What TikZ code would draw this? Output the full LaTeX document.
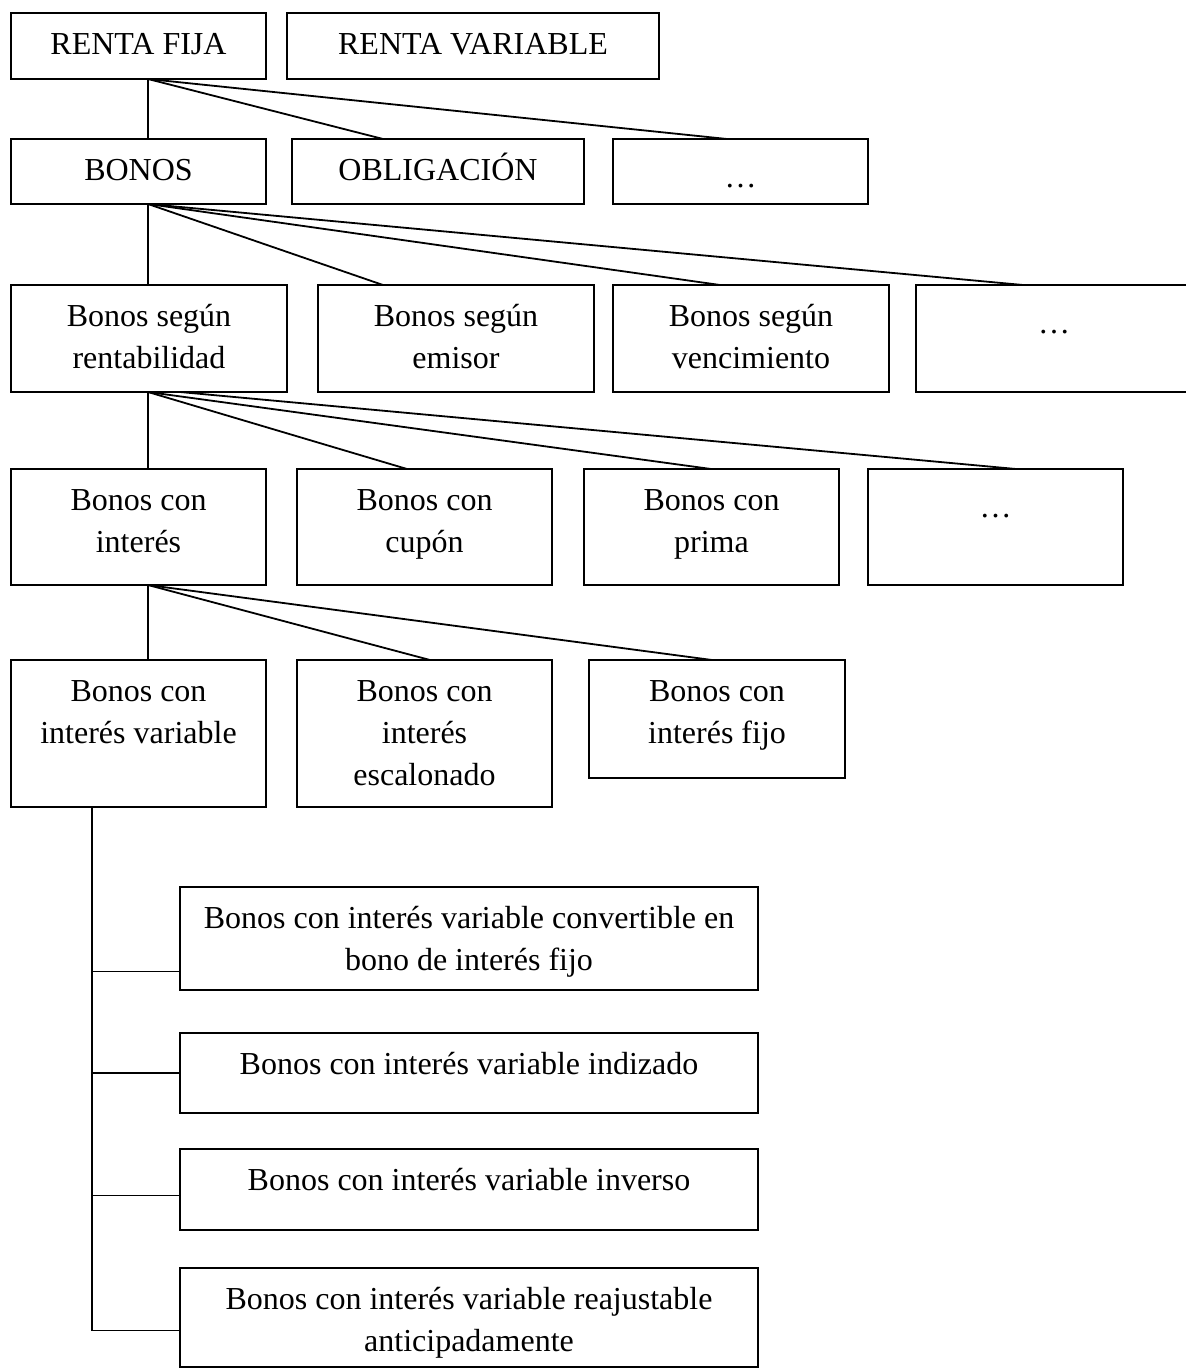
\documentclass[tikz,border=0pt]{standalone}
\usepackage{fontspec}
\setmainfont{Liberation Serif}
\usetikzlibrary{calc}
\tikzset{
  boxst/.style={draw, line width=1pt, rectangle, inner sep=0pt, outer sep=0pt, anchor=north west},
  txt/.style={inner sep=0pt, outer sep=0pt, align=center, anchor=north, font=\fontsize{16}{21}\selectfont},
  conn/.style={line width=0.9pt},
}
\newcommand\mybox[6]{%
  \node[boxst, minimum width=#4*0.5pt, minimum height=#5*0.5pt] (#1) at (#2,#3) {};
  \node[txt] (#1-t) at ($(#1.north)+(0,12)$) {\strut #6};}
\newcommand\mydots{\raisebox{-3.5pt}{\dots}}
\begin{document}
\begin{tikzpicture}[x=0.5pt, y=-0.5pt]
\useasboundingbox (0,0) rectangle (1186,1369);
% row 1
\mybox{rf}{11}{13}{255}{66}{RENTA FIJA}
\mybox{rv}{287}{13}{372}{66}{RENTA VARIABLE}
% row 2
\mybox{bon}{11}{139}{255}{65}{BONOS}
\mybox{obl}{292}{139}{292}{65}{OBLIGACIÓN}
\mybox{d2}{613}{139}{255}{65}{\mydots}
% row 3
\mybox{r3a}{11}{285}{276}{107}{Bonos según\\rentabilidad}
\mybox{r3b}{318}{285}{276}{107}{Bonos según\\emisor}
\mybox{r3c}{613}{285}{276}{107}{Bonos según\\vencimiento}
\mybox{r3d}{916}{285}{276}{107}{\mydots}
% row 4
\mybox{r4a}{11}{469}{255}{116}{Bonos con\\interés}
\mybox{r4b}{297}{469}{255}{116}{Bonos con\\cupón}
\mybox{r4c}{584}{469}{255}{116}{Bonos con\\prima}
\mybox{r4d}{868}{469}{255}{116}{\mydots}
% row 5
\mybox{r5a}{11}{660}{255}{147}{Bonos con\\interés variable}
\mybox{r5b}{297}{660}{255}{147}{Bonos con\\interés\\escalonado}
\mybox{r5c}{589}{660}{256}{118}{Bonos con\\interés fijo}
% row 6
\mybox{r6a}{180}{887}{578}{103}{Bonos con interés variable convertible en\\bono de interés fijo}
\mybox{r6b}{180}{1033}{578}{80}{Bonos con interés variable indizado}
\mybox{r6c}{180}{1149}{578}{81}{Bonos con interés variable inverso}
\mybox{r6d}{180}{1268}{578}{99}{Bonos con interés variable reajustable\\anticipadamente}

% connectors row1 -> row2
\coordinate (rf-o) at ($(rf.south west)+(137,0)$);
\draw[conn] (rf-o) -- ($(bon.north west)+(137,0)$);
\draw[conn] (rf-o) -- ($(obl.north west)+(91,0)$);
\draw[conn] (rf-o) -- ($(d2.north west)+(114,0)$);
% row2 -> row3
\coordinate (bon-o) at ($(bon.south west)+(137,0)$);
\draw[conn] (bon-o) -- ($(r3a.north west)+(137,0)$);
\draw[conn] (bon-o) -- ($(r3b.north west)+(65,0)$);
\draw[conn] (bon-o) -- ($(r3c.north west)+(107,0)$);
\draw[conn] (bon-o) -- ($(r3d.north west)+(107,0)$);
% row3 -> row4
\coordinate (r3a-o) at ($(r3a.south west)+(137,0)$);
\coordinate (r3a-p) at ($(r3a.south west)+(169,0)$);
\draw[conn] (r3a-o) -- ($(r4a.north west)+(137,0)$);
\draw[conn] (r3a-o) -- ($(r4b.north west)+(110,0)$);
\draw[conn] (r3a-o) -- ($(r4c.north west)+(127,0)$);
\draw[conn] (r3a-p) -- ($(r4d.north west)+(148,0)$);
% row4 -> row5
\coordinate (r4a-o) at ($(r4a.south west)+(137,0)$);
\draw[conn] (r4a-o) -- ($(r5a.north west)+(137,0)$);
\draw[conn] (r4a-o) -- ($(r5b.north west)+(133,0)$);
\draw[conn] (r4a-o) -- ($(r5c.north west)+(123,0)$);
% row5 -> row6 bus
\coordinate (bus-top) at ($(r5a.south west)+(81,0)$);
\coordinate (e1) at ($(r6a.west)+(0,33)$);
\coordinate (e2) at ($(r6b.west)+(0,0)$);
\coordinate (e3) at ($(r6c.west)+(0,6)$);
\coordinate (e4) at ($(r6d.west)+(0,13)$);
\coordinate (bus1) at (bus-top |- e1);
\coordinate (bus2) at (bus-top |- e2);
\coordinate (bus3) at (bus-top |- e3);
\draw[conn] (bus-top) |- (e4);
\draw[conn] (bus1) -- (e1);
\draw[conn] (bus2) -- (e2);
\draw[conn] (bus3) -- (e3);
\end{tikzpicture}
\end{document}
